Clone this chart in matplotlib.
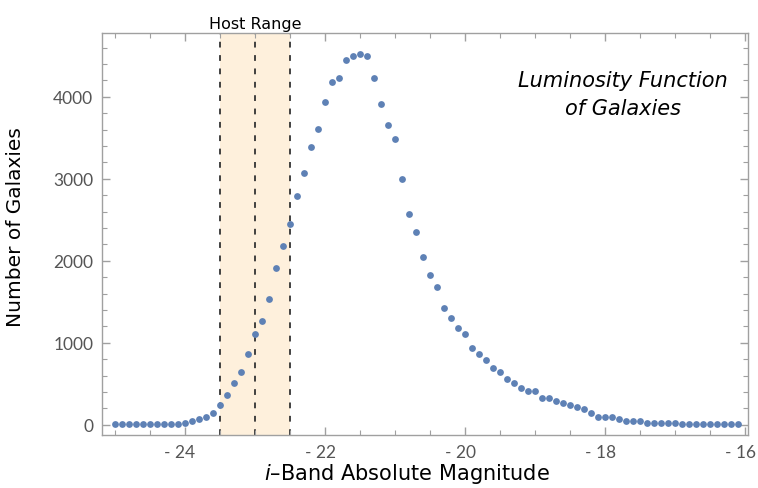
import numpy as np
import matplotlib.pyplot as plt
from matplotlib.ticker import MultipleLocator, FuncFormatter
from matplotlib.transforms import ScaledTranslation

plt.rcParams['font.family'] = ['Lato', 'DejaVu Sans']
plt.rcParams['mathtext.fontset'] = 'custom'
plt.rcParams['mathtext.rm'] = 'DejaVu Sans'
plt.rcParams['mathtext.it'] = 'DejaVu Sans:italic'

# i-band absolute magnitude bins and galaxy counts per bin
magnitude = [
    -25.0, -24.9, -24.8, -24.7, -24.6, -24.5, -24.4, -24.3, -24.2, -24.1,
    -24.0, -23.9, -23.8, -23.7, -23.6, -23.5, -23.4, -23.3, -23.2, -23.1,
    -23.0, -22.9, -22.8, -22.7, -22.6, -22.5, -22.4, -22.3, -22.2, -22.1,
    -22.0, -21.9, -21.8, -21.7, -21.6, -21.5, -21.4, -21.3, -21.2, -21.1,
    -21.0, -20.9, -20.8, -20.7, -20.6, -20.5, -20.4, -20.3, -20.2, -20.1,
    -20.0, -19.9, -19.8, -19.7, -19.6, -19.5, -19.4, -19.3, -19.2, -19.1,
    -19.0, -18.9, -18.8, -18.7, -18.6, -18.5, -18.4, -18.3, -18.2, -18.1,
    -18.0, -17.9, -17.8, -17.7, -17.6, -17.5, -17.4, -17.3, -17.2, -17.1,
    -17.0, -16.9, -16.8, -16.7, -16.6, -16.5, -16.4, -16.3, -16.2, -16.1,
]
counts = [
    5, 5, 5, 5, 5, 5, 5, 5, 5, 5,
    24, 49, 73, 98, 142, 240, 358, 504, 646, 862,
    1102, 1268, 1537, 1915, 2183, 2447, 2785, 3075, 3388, 3603,
    3941, 4180, 4229, 4445, 4494, 4522, 4494, 4229, 3917, 3652,
    3485, 3000, 2569, 2354, 2041, 1825, 1683, 1419, 1297, 1175,
    1102, 935, 862, 793, 695, 646, 553, 504, 455, 407,
    407, 333, 333, 285, 264, 240, 215, 191, 142, 93,
    93, 93, 69, 45, 45, 45, 20, 20, 20, 20,
    20, 5, 5, 5, 5, 5, 5, 5, 5, 5,
]

host_lo, host_mid, host_hi = -23.5, -23.0, -22.5

fig = plt.figure(figsize=(7.58, 4.89), dpi=100)
ax = fig.add_axes([0.1342, 0.1074, 0.8526, 0.8225])

ax.axvspan(host_lo, host_hi, color='#fef0dc', lw=0, zorder=0)
for xv in (host_lo, host_mid, host_hi):
    ax.axvline(xv, color='#333333', lw=1.3, ls=(0, (3.2, 4.2)), zorder=1)

ax.scatter(magnitude, counts, s=24, color='#5e81b5', lw=0, zorder=3)

ax.set_xlim(-25.19, -15.96)
ax.set_ylim(-130, 4774)

ax.xaxis.set_major_locator(MultipleLocator(2))
ax.xaxis.set_minor_locator(MultipleLocator(0.5))
ax.yaxis.set_major_locator(MultipleLocator(1000))
ax.yaxis.set_minor_locator(MultipleLocator(200))
ax.xaxis.set_major_formatter(FuncFormatter(lambda v, p: '- %d' % abs(v) if v < 0 else '%d' % v))

gray = '#a0a0a0'
for s in ax.spines.values():
    s.set_color(gray)
    s.set_linewidth(1.0)
ax.tick_params(which='both', direction='in', top=True, right=True, color=gray,
               labelcolor='#555555', labelsize=12.5)
ax.tick_params(which='major', length=6, width=1.0, pad=6)
ax.tick_params(which='minor', length=3.5, width=0.8)

# keep the digits centred on the tick, with the minus sign hanging left
shift = ScaledTranslation(10.5 / 100, 0, fig.dpi_scale_trans)
for lab in ax.get_xticklabels():
    lab.set_horizontalalignment('right')
    lab.set_transform(lab.get_transform() + shift)

ax.set_xlabel(r'$\it{i}$–Band Absolute Magnitude', fontsize=15,
              family='DejaVu Sans')
ax.xaxis.set_label_coords(0.472, -0.063)
ax.set_ylabel('Number of Galaxies', fontsize=14.5, family='DejaVu Sans')
ax.yaxis.set_label_coords(-0.119, 0.52)

ax.text(-17.74, 4034, 'Luminosity Function\nof Galaxies', style='italic',
        fontsize=15, family='DejaVu Sans', ha='center', va='center',
        linespacing=1.45)
ax.text(host_mid, 4800, 'Host Range', ha='center', va='bottom',
        fontsize=11.5, family=['Liberation Sans Narrow', 'DejaVu Sans'])

fig.savefig('out.png', dpi=100)
